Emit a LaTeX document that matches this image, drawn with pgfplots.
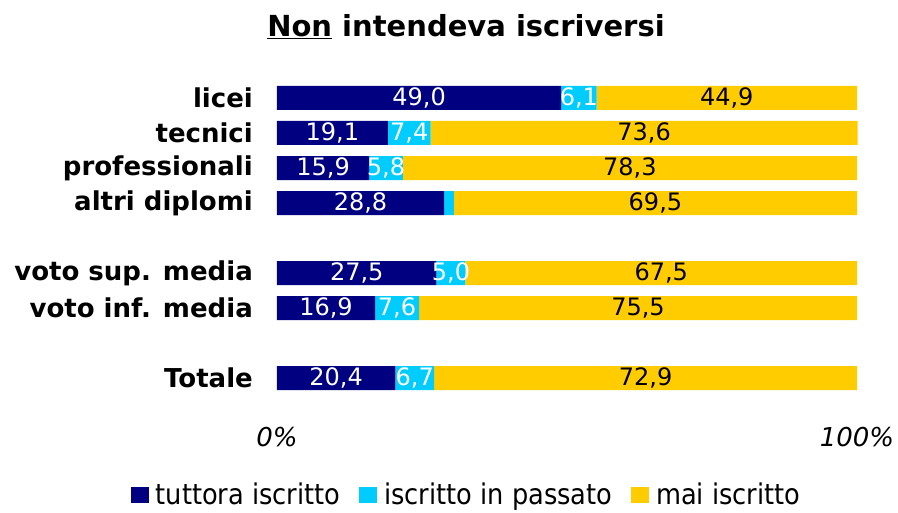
\documentclass[border=0pt]{standalone}
\usepackage{fontspec}
\setmainfont{DejaVu Sans}
\newfontfamily\condfont{DejaVu Sans Condensed}
\usepackage{pgfplots}
\pgfplotsset{compat=1.18}
\definecolor{cnavy}{HTML}{000080}
\definecolor{ccyan}{HTML}{00CCFF}
\definecolor{cyell}{HTML}{FFCC00}
\begin{document}
\begin{tikzpicture}
\begin{axis}[
  at={(277pt,-430.5pt)}, anchor=south west,
  scale only axis, width=580pt, height=350pt,
  xbar stacked, bar width=24pt,
  xmin=0, xmax=100, ymin=-1.5, ymax=8.5,
  clip=false,
  axis line style={draw=none}, tick style={draw=none},
  xtick={0,100}, xticklabels={0\%,100\%},
  xticklabel style={font=\fontsize{26pt}{30pt}\selectfont\itshape, anchor=center, inner sep=0pt, yshift=-6.5pt},
  ytick={0,2,3,5,6,7,8},
  yticklabels={Totale,voto inf. media,voto sup. media,altri diplomi,professionali,tecnici,licei},
  yticklabel style={font=\fontsize{26pt}{30pt}\selectfont\bfseries, anchor=east, inner sep=0pt, xshift=-24pt},
  point meta=explicit symbolic,
  nodes near coords,
  every node near coord/.append style={anchor=center, font=\fontsize{24pt}{28pt}\selectfont, inner sep=0pt},
  legend columns=3,
  legend style={draw=none, fill=none, inner sep=0pt, at={(0.325,-0.183)}, anchor=center,
    font=\condfont\fontsize{28.5pt}{32pt}\selectfont, nodes={inner sep=0pt},
    /tikz/every odd column/.append style={column sep=7pt},
    /tikz/every even column/.append style={column sep=19pt}},
  legend image code/.code={\fill[#1] (0pt,-8pt) rectangle (18pt,8pt);},
]
\addplot[fill=cnavy, draw=none, every node near coord/.append style={text=white}] coordinates {
  (49.0,8) [49,0]
  (19.1,7) [19,1]
  (15.9,6) [15,9]
  (28.8,5) [28,8]
  (27.5,3) [27,5]
  (16.9,2) [16,9]
  (20.4,0) [20,4]
};
\addplot[fill=ccyan, draw=none, every node near coord/.append style={text=white}] coordinates {
  (6.1,8) [6,1]
  (7.4,7) [7,4]
  (5.8,6) [5,8]
  (1.7,5) [{}]
  (5.0,3) [5,0]
  (7.6,2) [7,6]
  (6.7,0) [6,7]
};
\addplot[fill=cyell, draw=none, every node near coord/.append style={text=black}] coordinates {
  (44.9,8) [44,9]
  (73.6,7) [73,6]
  (78.3,6) [78,3]
  (69.5,5) [69,5]
  (67.5,3) [67,5]
  (75.5,2) [75,5]
  (72.9,0) [72,9]
};
\legend{tuttora iscritto, iscritto in passato, mai iscritto}
\end{axis}
\node[font=\fontsize{29pt}{34pt}\selectfont\bfseries] at (466pt,-27pt) {\underline{Non} intendeva iscriversi};
\pgfresetboundingbox
\path[use as bounding box] (0pt,0pt) rectangle (898pt,-512pt);
\end{tikzpicture}
\end{document}
